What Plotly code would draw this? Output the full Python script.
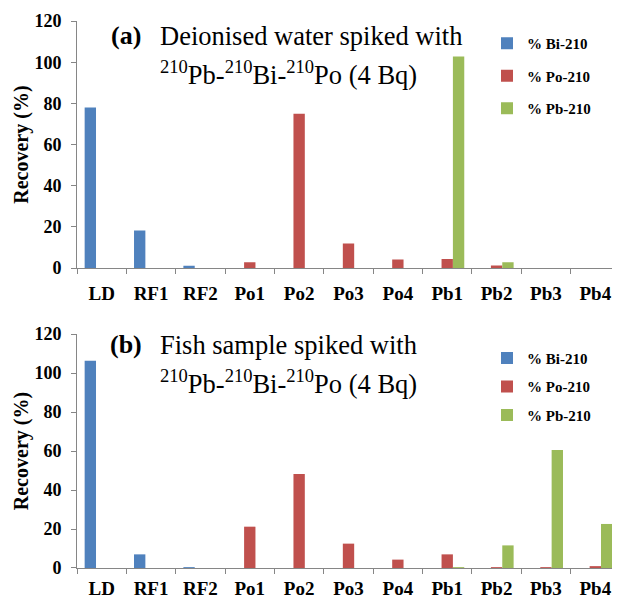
import plotly.graph_objects as go
from plotly.subplots import make_subplots

categories = ["LD", "RF1", "RF2", "Po1", "Po2", "Po3", "Po4", "Pb1", "Pb2", "Pb3", "Pb4"]
series_names = ["% Bi-210", "% Po-210", "% Pb-210"]
colors = ["#4F81BD", "#C0504D", "#9BBB59"]

# (a) Deionised water
water_bi = [78.0, 18.3, 1.2, 0, 0, 0, 0, 0, 0, 0, 0]
water_po = [0, 0, 0, 2.9, 75.0, 12.0, 4.2, 4.5, 1.3, 0, 0]
water_pb = [0, 0, 0, 0, 0, 0, 0, 102.8, 2.9, 0, 0]

# (b) Fish sample
fish_bi = [106.3, 7.0, 0.3, 0, 0, 0, 0, 0, 0, 0, 0]
fish_po = [0, 0, 0, 21.2, 48.2, 12.5, 4.3, 7.0, 0.4, 0.3, 0.5]
fish_pb = [0, 0, 0, 0, 0, 0, 0, 0.3, 11.6, 60.6, 22.6]

y_ticks = [0, 20, 40, 60, 80, 100, 120]

SERIF = "Liberation Serif"
OFF = 8  # default page body margin of the html page
W, H = 620 - OFF, 600 - OFF
M_L, M_R, M_T = 77 - OFF, 0, 21 - OFF
M_B = H - (568.3 - OFF)
plot_h = H - M_T - M_B


def py(screen_y):
    """screen pixel row -> paper y"""
    return (H - M_B - (screen_y - OFF)) / plot_h


def px(screen_x):
    return (screen_x - OFF - M_L) / (W - M_L - M_R)


fig = make_subplots(rows=2, cols=1)

for row, data, leg in [(1, [water_bi, water_po, water_pb], "legend"),
                       (2, [fish_bi, fish_po, fish_pb], "legend2")]:
    for name, vals, col in zip(series_names, data, colors):
        fig.add_trace(go.Bar(x=categories, y=vals, name=name, marker_color=col,
                             marker_line_width=0, legend=leg, legendgroup=f"{leg}{name}"),
                      row=row, col=1)

axis_common = dict(showline=True, linecolor="#868686", linewidth=1, ticks="outside",
                   ticklen=5, tickcolor="#868686", showgrid=False, zeroline=False,
                   automargin=False)
xfont = dict(family=SERIF, size=19, color="black", weight="bold")
yfont = dict(family=SERIF, size=18, color="black", weight="bold")
ytitle = dict(text="Recovery (%)", font=dict(family=SERIF, size=20, color="black", weight="bold"),
              standoff=0)

top_dom = [py(268.3), 1.0]
bot_dom = [0.0, py(334.3)]

fig.update_layout(
    width=W, height=H,
    margin=dict(l=M_L, r=M_R, t=M_T, b=M_B, autoexpand=False),
    plot_bgcolor="white", paper_bgcolor="white",
    bargap=0.31, bargroupgap=0,
    barmode="group",
    xaxis=dict(domain=[0, 1], tickson="boundaries", ticklabelstandoff=8, tickfont=xfont, **axis_common),
    xaxis2=dict(domain=[0, 1], tickson="boundaries", ticklabelstandoff=3, tickfont=xfont, **axis_common),
    yaxis=dict(domain=top_dom, range=[0, 120], tickvals=y_ticks, ticklabelstandoff=6,
               tickfont=yfont, title=ytitle, **axis_common),
    yaxis2=dict(domain=bot_dom, range=[0, 120], tickvals=y_ticks, ticklabelstandoff=6,
                tickfont=yfont, title=ytitle, **axis_common),
    legend=dict(x=px(487), y=py(27), xanchor="left", yanchor="top", tracegroupgap=10,
                font=dict(family=SERIF, size=15, color="black", weight="bold"),
                bgcolor="rgba(0,0,0,0)"),
    legend2=dict(x=px(487), y=py(342), xanchor="left", yanchor="top", tracegroupgap=6,
                 font=dict(family=SERIF, size=15, color="black", weight="bold"),
                 bgcolor="rgba(0,0,0,0)"),
    showlegend=True,
)

title_font = dict(family=SERIF, size=26.5, color="black")
bold_font = dict(family=SERIF, size=26, color="black", weight="bold")
panel_titles = [
    ("(a)", "Deionised water spiked with", 36, 73),
    ("(b)", "Fish sample spiked with", 345, 382),
]
for tag, line1, y1, y2 in panel_titles:
    fig.add_annotation(text=tag, x=px(126), y=py(y1), xref="paper", yref="paper",
                       xanchor="center", yanchor="middle", showarrow=False, font=bold_font)
    fig.add_annotation(text=line1, x=px(158), y=py(y1), xref="paper", yref="paper",
                       xanchor="left", yanchor="middle", showarrow=False, font=title_font)
    fig.add_annotation(text="<sup>210</sup>Pb-<sup>210</sup>Bi-<sup>210</sup>Po (4 Bq)",
                       x=px(158), y=py(y2), xref="paper", yref="paper",
                       xanchor="left", yanchor="middle", showarrow=False, font=title_font)

fig.write_html("out.html")
